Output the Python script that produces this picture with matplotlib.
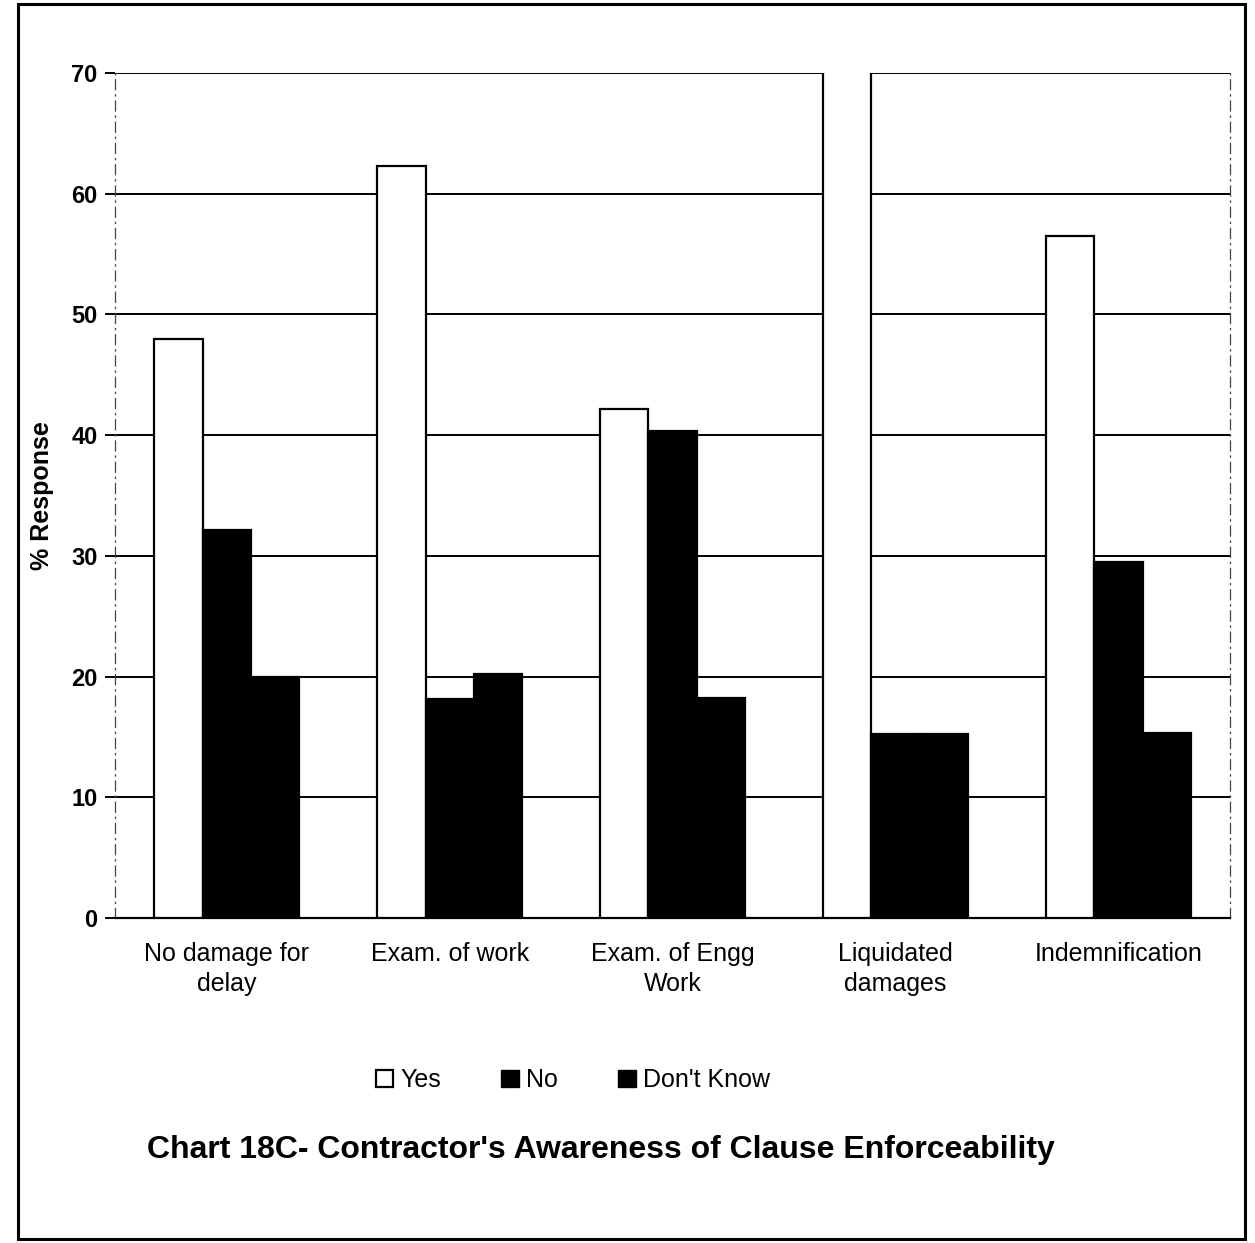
import matplotlib
matplotlib.use("Agg")
import matplotlib.pyplot as plt
import numpy as np
from matplotlib.patches import Patch, Rectangle

plt.rcParams['font.family'] = ['Liberation Sans', 'DejaVu Sans']

categories = ["No damage for\ndelay", "Exam. of work", "Exam. of Engg\nWork",
              "Liquidated\ndamages", "Indemnification"]
series_names = ["Yes", "No", "Don't Know"]
yes_vals = [48, 62.3, 42.2, 72, 56.5]
no_vals = [32.1, 18.1, 40.3, 15.2, 29.5]
dk_vals = [20.0, 20.2, 18.2, 15.2, 15.3]
yticks = [0, 10, 20, 30, 40, 50, 60, 70]

fig = plt.figure(figsize=(12.55, 12.43), dpi=100)
ax = fig.add_axes([0.092, 0.2615, 0.888, 0.6798])

x = np.arange(len(categories))
w = 0.217
ax.bar(x - w, yes_vals, w, color="white", edgecolor="black", linewidth=1.6, zorder=3)
ax.bar(x, no_vals, w, color="black", edgecolor="black", linewidth=1.6, zorder=3)
ax.bar(x + w, dk_vals, w, color="black", edgecolor="black", linewidth=1.6, zorder=3)

ax.set_ylim(0, 70)
ax.set_xlim(-0.5, len(categories) - 0.5)
ax.set_yticks(yticks)
ax.set_yticklabels([str(t) for t in yticks], fontsize=17, fontweight="bold")
ax.yaxis.grid(True, color="black", linewidth=1.4, zorder=0)
ax.set_axisbelow(True)
ax.tick_params(axis='y', direction='out', length=7, width=1.4, pad=6)
ax.set_xticks(x)
ax.set_xticklabels(categories, fontsize=18, linespacing=1.35)
ax.tick_params(axis='x', length=0, pad=17)

for s in ["left", "right"]:
    ax.spines[s].set_linestyle((0, (8, 4, 1, 4)))
    ax.spines[s].set_linewidth(0.9)
    ax.spines[s].set_color("#444444")
ax.spines["top"].set_visible(False)
ax.spines["bottom"].set_linewidth(1.6)

ax.set_ylabel("% Response", fontsize=18, fontweight="bold", labelpad=12)

handles = [Patch(facecolor="white", edgecolor="black", linewidth=1.6),
           Patch(facecolor="black", edgecolor="black"),
           Patch(facecolor="black", edgecolor="black")]
fig.legend(handles, series_names, loc="center", bbox_to_anchor=(0.4566, 0.131),
           ncol=3, frameon=False, fontsize=18, handlelength=0.7, handleheight=0.7,
           handletextpad=0.3, columnspacing=2.4)

fig.text(0.479, 0.075, "Chart 18C- Contractor's Awareness of Clause Enforceability",
         ha="center", va="center", fontsize=23, fontweight="bold")

fig.patches.append(Rectangle((0.014, 0.003), 0.978, 0.994, transform=fig.transFigure,
                             fill=False, edgecolor="black", linewidth=2.2))

fig.savefig("out.png", dpi=100)
